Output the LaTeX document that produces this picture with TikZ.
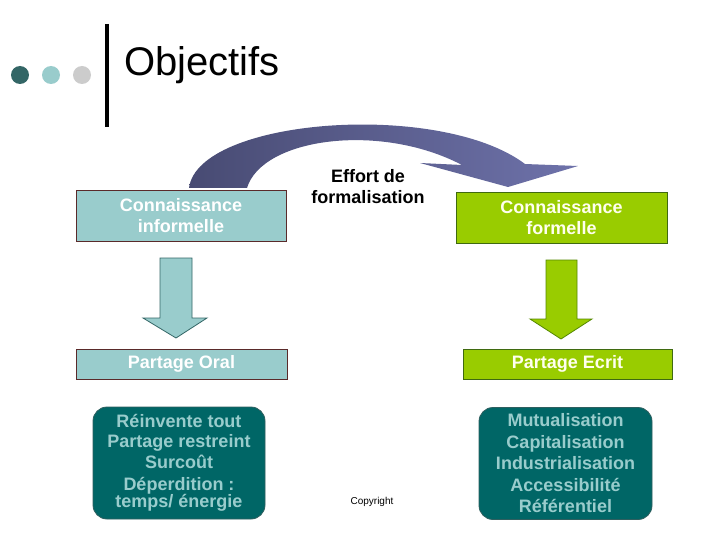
\documentclass[tikz,border=0pt]{standalone}
\usepackage{fontspec}
\setmainfont{Liberation Sans}
\begin{document}
\begin{tikzpicture}[x=1pt,y=-1pt,
  lbox/.style={draw=lborder,fill=lteal,line width=0.8pt,text=white,font=\fontsize{18}{21}\selectfont\bfseries,align=center,inner sep=0pt},
  gbox/.style={draw=gborder,fill=lgreen,line width=0.8pt,text=gtext,font=\fontsize{18}{21}\selectfont\bfseries,align=center,inner sep=0pt},
  rbox/.style={draw=rborder,fill=dteal,line width=0.8pt,rounded corners=14pt,text=lteal,font=\fontsize{18}{21.5}\selectfont\bfseries,align=center,inner sep=0pt},
  ]
\definecolor{lteal}{HTML}{99CCCC}
\definecolor{dteal}{HTML}{006666}
\definecolor{rborder}{HTML}{2F5F5F}
\definecolor{lborder}{HTML}{5A2A2A}
\definecolor{lgreen}{HTML}{99CC00}
\definecolor{gborder}{HTML}{3F6A10}
\definecolor{gtext}{HTML}{FFFFEE}
\definecolor{dot1}{HTML}{336666}
\definecolor{dot3}{HTML}{CCCCCC}
\definecolor{arrL}{HTML}{484B73}
\definecolor{arrR}{HTML}{6E72AA}
\definecolor{tealedge}{HTML}{336666}
\definecolor{greenedge}{HTML}{558800}
\useasboundingbox (0,0) rectangle (720,540);
\fill[white] (0,0) rectangle (720,540);
% header
\fill[dot1] (20,75) circle (9);
\fill[lteal] (51,75) circle (9);
\fill[dot3] (82,75) circle (9);
\draw[line width=3.5pt] (107,24) -- (107,127);
\node[anchor=base west,inner sep=0pt,font=\fontsize{40}{40}\selectfont] (title) at (124,76) {Objectifs};
% curved arrow
\shade[left color=arrL,right color=arrR]
  (189,188) .. controls (198,118) and (440,100) .. (525,164)
  -- (578,166) -- (508,187) -- (420,163) -- (462,165)
  .. controls (380,122) and (262,138) .. (247,188) -- cycle;
\node[align=center,inner sep=0pt,font=\fontsize{18}{21}\selectfont\bfseries,anchor=base] (effort) at (368,204) {Effort de\\formalisation};
% boxes
\node[lbox,minimum width=210pt,minimum height=51pt] (ci) at (181,215.5) {Connaissance\\informelle};
\node[gbox,minimum width=211pt,minimum height=51pt] (cf) at (561.5,217.5) {Connaissance\\formelle};
\node[lbox,minimum width=211pt,minimum height=30pt] (po) at (181.5,364) {\raisebox{-1.5pt}{Partage Oral}};
\node[gbox,minimum width=209pt,minimum height=30pt] (pe) at (567.5,364) {\raisebox{-1.5pt}{Partage Ecrit}};
\node[rbox,minimum width=172pt,minimum height=112pt] (rl) at (179,463) {\raisebox{-2pt}{R\'einvente tout}\\Partage restreint\\Surco\^ut\\D\'eperdition :\\[-4pt]temps/ \'energie};
\node[rbox,minimum width=173pt,minimum height=112pt] (rr) at (565.5,463.5) {Mutualisation\\Capitalisation\\Industrialisation\\Accessibilit\'e\\R\'ef\'erentiel};
% block arrows
\draw[fill=lteal,draw=tealedge,line width=0.8pt,line join=miter]
  (160,258) -- (192,258) -- (192,318) -- (207,318) -- (176,338) -- (143,318) -- (160,318) -- cycle;
\draw[fill=lgreen,draw=greenedge,line width=0.8pt,line join=miter]
  (546,260) -- (577,260) -- (577,319) -- (592,319) -- (561,339) -- (530,319) -- (546,319) -- cycle;
\node[font=\fontsize{10}{10}\selectfont,inner sep=0pt] (copy) at (372,502) {Copyright};
\end{tikzpicture}
\end{document}
